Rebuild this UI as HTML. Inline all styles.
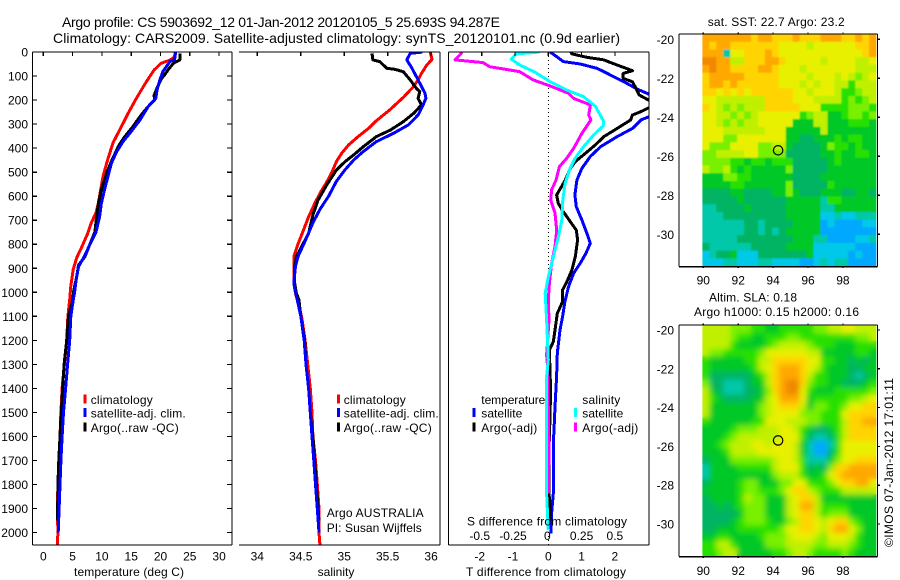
<!DOCTYPE html>
<html lang="en">
<head>
<meta charset="utf-8">
<title>Argo profile chart</title>
<style>
html,body{margin:0;padding:0;background:#fff;width:900px;height:580px;overflow:hidden}
svg{display:block}
text{font-family:"Liberation Sans",sans-serif;font-size:12px;fill:#000}
.title{font-size:14px}
</style>
</head>
<body>
<svg id="chart" xmlns="http://www.w3.org/2000/svg" width="900" height="580" viewBox="0 0 900 580">
<defs>
<clipPath id="clip-temp"><rect x="33" y="52" width="199" height="493"/></clipPath>
<clipPath id="clip-sal"><rect x="239" y="52" width="201" height="493"/></clipPath>
<clipPath id="clip-diff"><rect x="449" y="52" width="200" height="493"/></clipPath>
<clipPath id="clip-sst-map"><rect x="702.4" y="34" width="173.6" height="232"/></clipPath>
<clipPath id="clip-sla-map"><rect x="702.4" y="325.7" width="173.6" height="230"/></clipPath>
<filter id="blur-sst-map" filterUnits="userSpaceOnUse" x="680" y="10" width="220" height="280"><feGaussianBlur stdDeviation="0.8"/></filter>
<filter id="blur-sla-map" filterUnits="userSpaceOnUse" x="680" y="300" width="220" height="280"><feGaussianBlur stdDeviation="3"/></filter>
</defs>
<rect x="0" y="0" width="900" height="580" fill="#fff"/>
<text class="title" x="62" y="27" textLength="438" lengthAdjust="spacing">Argo profile: CS 5903692_12 01-Jan-2012 20120105_5 25.693S 94.287E</text>
<text class="title" x="53" y="43" textLength="567" lengthAdjust="spacing">Climatology: CARS2009. Satellite-adjusted climatology: synTS_20120101.nc (0.9d earlier)</text>
<text x="129" y="576" text-anchor="middle" textLength="110" lengthAdjust="spacing">temperature (deg C)</text>
<text x="336" y="576" text-anchor="middle">salinity</text>
<text x="546" y="576" text-anchor="middle" textLength="160" lengthAdjust="spacing">T difference from climatology</text>
<text x="326.7" y="517" textLength="97" lengthAdjust="spacing">Argo AUSTRALIA</text>
<text x="326.7" y="532" textLength="95" lengthAdjust="spacing">PI: Susan Wijffels</text>
<text x="707.7" y="26" textLength="137" lengthAdjust="spacing">sat. SST: 22.7 Argo: 23.2</text>
<text x="709" y="301.5" textLength="88" lengthAdjust="spacing">Altim. SLA: 0.18</text>
<text x="694" y="316" textLength="165" lengthAdjust="spacing">Argo h1000: 0.15 h2000: 0.16</text>
<text transform="translate(893 547) rotate(-90)" textLength="169" lengthAdjust="spacing">©IMOS 07-Jan-2012 17:01:11</text>
<g id="maps"></g>
<g id="series"></g>
<g id="axes"></g>
<g id="legends"></g>
<text x="547" y="525.5" text-anchor="middle" textLength="160" lengthAdjust="spacing">S difference from climatology</text>
</svg>
<script>
// ---- axis tick data ----
const depthTicks = [0,100,200,300,400,500,600,700,800,900,1000,1100,1200,1300,1400,1500,1600,1700,1800,1900,2000];
const tempTicks = [0,5,10,15,20,25,30];
const salTicks = [34,34.5,35,35.5,36];
const salTickLabels = ['34','34.5','35','35.5','36'];
const tDiffTicks = [-2,-1,0,1,2];
const sDiffTicks = [-0.5,-0.25,0,0.25,0.5];
const sDiffTickLabels = ['-0.5','-0.25','0','0.25','0.5'];
const lonTicks = [90,92,94,96,98];
const latTicks = [-20,-22,-24,-26,-28,-30];
const argoLon = 94.287;
const argoLat = -25.693;

// ---- temperature panel ----
const tempClimDepth = [0,20,33,47,75,123,192,254,316,378,455,517,572,628,669,710,759,815,856,905,974,1030,1100,1200,1300,1400,1500,1600,1700,1800,1900,2000,2050];
const tempClimValue = [22.5,22.4,21.7,20.1,18.9,17.6,15.9,14.5,13.2,11.9,10.9,10.2,9.8,9.4,9.0,8.2,7.5,6.5,5.7,5.1,4.7,4.5,4.2,4.0,3.6,3.2,3.0,2.85,2.7,2.5,2.4,2.5,2.4];
const tempSatDepth = [0,31,40,82,116,158,193,227,283,331,373,416,464,513,568,631,686,749,798,846,894,950,1005,1033,1100,1200,1300,1400,1500,1600,1700,1800,1900,2000];
const tempSatValue = [22.6,22.4,21.6,20.4,19.9,19.4,19.2,17.9,16.5,15.0,13.6,12.5,11.6,11.1,10.5,9.9,9.6,9.0,8.0,7.1,6.0,5.6,5.3,5.1,4.7,4.5,4.15,3.8,3.45,3.2,3.0,2.85,2.7,2.55];
const tempArgoDepth = [6,33,47,68,95,110,138,180,200,227,262,310,352,393,456,505,574,630,686,748,797,852,887,935,991,1033,1100,1200,1300,1400,1500,1600,1700,1800,1900,1950];
const tempArgoValue = [23.3,23.3,22.2,21.5,20.7,20.2,19.6,18.9,19.0,17.9,16.7,15.3,13.9,12.8,11.6,10.8,9.9,9.4,9.1,8.8,8.0,7.1,6.0,5.7,5.2,5.0,4.3,4.0,3.55,3.3,3.05,2.85,2.65,2.5,2.45,2.4];

// ---- salinity panel ----
const salClimDepth = [0,31,54,89,116,147,189,239,286,318,352,387,422,456,499,541,582,631,686,742,798,852,893,962,1004,1032,1100,1200,1300,1400,1500,1600,1700,1800,1900,2000,2050];
const salClimValue = [35.99,36.01,35.95,35.89,35.85,35.79,35.68,35.53,35.37,35.28,35.16,35.05,34.97,34.91,34.86,34.80,34.73,34.66,34.59,34.53,34.47,34.42,34.42,34.42,34.44,34.46,34.51,34.55,34.58,34.61,34.63,34.64,34.67,34.69,34.71,34.71,34.72];
const salSatDepth = [0,6,33,68,102,130,172,193,227,262,303,338,373,414,449,490,538,600,655,711,787,850,891,960,1001,1032,1100,1200,1300,1400,1500,1600,1700,1800,1900,2000];
const salSatValue = [35.90,35.76,35.72,35.78,35.83,35.87,35.93,35.94,35.90,35.85,35.74,35.57,35.37,35.22,35.11,35.01,34.91,34.82,34.72,34.64,34.55,34.47,34.44,34.42,34.44,34.46,34.50,34.54,34.56,34.59,34.61,34.63,34.65,34.67,34.69,34.71];
const salArgoDepth = [6,33,40,68,72,82,116,151,165,193,220,255,290,325,352,394,428,456,491,553,616,678,755,810,852,893,962,1004,1032,1100,1200,1300,1400,1500,1600,1700,1800,1900,1950];
const salArgoValue = [35.32,35.33,35.41,35.49,35.58,35.68,35.76,35.83,35.87,35.85,35.89,35.80,35.68,35.53,35.37,35.22,35.11,35.01,34.91,34.80,34.70,34.64,34.59,34.51,34.45,34.43,34.43,34.45,34.48,34.50,34.545,34.56,34.59,34.61,34.64,34.66,34.68,34.70,34.71];

// ---- difference panel ----
const dtSatDepth = [0,19,40,50,68,82,103,124,155,179,220,266,283,318,352,394,435,484,533,595,644,699,755,796,838,879,921,976,1039,1101,1157,1254,1351,1476,1573,1629,1837,1920,2003];
const dtSatValue = [0.05,0.25,0.45,0.96,1.46,1.67,1.97,2.27,2.68,3.08,3.6,3.08,2.78,2.53,2.07,1.57,1.26,1.01,0.86,0.8,0.84,1.01,1.16,1.26,1.13,0.96,0.76,0.61,0.5,0.43,0.35,0.27,0.25,0.2,0.17,0.15,0.15,0.1,0.08];
const dtArgoDepth = [0,8,22,33,44,78,89,110,124,151,179,207,227,248,262,283,318,352,387,428,456,484,533,595,630,664,706,741,782,852,907,956,990,1039,1088,1157,1206,1240,1324,1407,1518,1657,1837,1892,1950];
const dtArgoValue = [0.68,0.71,1.16,1.67,1.87,2.53,2.25,2.25,2.53,2.63,2.73,3.1,3.1,2.78,2.53,2.47,2.07,1.67,1.41,1.06,0.81,0.66,0.51,0.25,0.3,0.45,0.66,0.84,0.88,0.81,0.71,0.56,0.43,0.43,0.27,0.2,0.15,0.03,0.05,0.07,0.05,0.02,0.02,0.05,0.05];
const dsSatDepth = [0,8,30,54,84,123,158,186,227,290,308,345,394,442,484,546,616,699,769,852,936,1004,1060,1115,1171,1282,1351,1837,1892,1989];
const dsSatValue = [-0.063,-0.24,-0.278,-0.215,-0.10,0.013,0.139,0.265,0.354,0.417,0.412,0.341,0.265,0.202,0.164,0.126,0.109,0.101,0.076,0.038,0,-0.023,-0.018,-0.013,-0.008,0,-0.013,-0.013,-0.008,0];
const dsArgoDepth = [0,8,33,44,61,75,82,116,141,172,193,220,262,283,338,401,442,477,533,574,616,671,741,810,879,962,1032,1115,1226,1261,1310,1657,1837];
const dsArgoValue = [-0.65,-0.657,-0.70,-0.49,-0.44,-0.29,-0.215,-0.114,0.013,0.152,0.19,0.316,0.303,0.32,0.253,0.19,0.139,0.083,0.058,0.025,0.018,0.05,0.063,0.05,0.025,0.008,0,0.005,-0.008,-0.013,-0.005,0.005,0];

// ---- map grids: colour-level per cell, row by row from north to south ----
const sstLevels = [
[10,10,10,10,10,10,10,9,10,10,9,9,9,10,9,9,9,10,10,10,9,9,10,9,10],
[10,9,10,10,9,9,9,9,9,9,9,8,8,8,8,7,8,8,8,8,8,8,9,9,10],
[10,10,10,2,8,8,9,9,9,10,9,8,8,8,8,8,8,8,8,8,8,8,8,9,10],
[11,11,10,10,7,7,9,9,9,10,10,9,8,8,8,8,8,7,8,8,8,8,7,7,8],
[10,11,10,10,9,9,9,9,10,10,9,8,8,8,7,8,8,8,8,8,8,8,7,7,7],
[9,10,10,10,10,10,9,9,9,9,9,8,8,8,8,7,8,8,8,7,8,7,6,7,8],
[9,10,10,9,10,9,9,9,9,9,9,8,8,8,7,8,7,8,8,7,7,5,7,7,7],
[9,9,8,9,8,9,8,9,9,9,9,9,9,8,8,7,8,8,8,7,5,5,6,7,7],
[8,8,7,7,7,7,7,7,7,9,9,9,9,8,8,8,7,7,7,7,5,6,5,6,7],
[9,8,7,6,7,6,7,7,7,9,9,9,9,9,8,8,8,5,5,5,5,6,6,6,5],
[8,8,7,7,6,7,6,7,8,8,8,8,8,8,5,6,7,7,4,4,5,6,6,5,6],
[8,8,7,6,7,6,7,7,8,8,8,8,8,4,4,4,7,7,4,4,4,5,5,5,4],
[8,8,8,7,7,7,7,7,7,8,8,8,4,4,4,4,4,7,4,4,4,4,4,4,4],
[8,8,8,6,6,8,8,8,8,8,8,8,4,4,3,3,4,4,4,5,4,5,5,4,4],
[8,6,6,6,8,8,8,8,6,6,7,7,4,3,3,3,3,4,6,5,5,4,5,4,4],
[6,6,7,7,7,7,8,8,6,6,6,6,3,3,3,3,3,4,4,5,4,4,5,5,4],
[6,6,6,6,5,5,4,5,5,4,5,5,5,3,3,3,3,3,4,5,4,4,4,4,4],
[7,6,6,7,5,4,5,4,4,4,4,4,6,3,3,3,3,3,4,4,4,4,4,4,4],
[4,4,4,6,6,5,5,4,4,4,4,4,4,3,3,3,3,4,4,4,4,4,4,4,4],
[4,4,4,4,5,5,4,4,4,4,4,4,6,3,3,3,3,3,5,4,4,4,4,4,4],
[3,3,3,3,4,4,3,3,3,3,4,4,6,4,3,3,3,4,4,4,3,3,4,4,3],
[3,3,3,3,3,4,3,3,3,3,3,3,4,4,4,4,4,2,5,5,4,4,4,4,4],
[2,2,3,3,3,3,4,3,3,3,3,3,4,4,4,4,4,2,2,4,4,4,4,4,4],
[2,2,2,3,3,3,3,3,3,3,3,3,4,4,4,4,4,1,1,2,1,1,2,2,2],
[2,2,2,2,2,2,3,3,2,3,3,3,3,4,4,4,4,0,1,0,0,0,0,1,1],
[2,2,2,2,2,2,3,3,2,3,2,3,4,4,4,4,4,0,0,0,0,0,0,0,0],
[2,2,2,2,2,3,3,3,3,3,3,3,3,4,4,4,2,2,0,0,0,0,1,1,2],
[3,2,2,2,2,2,2,3,3,3,3,3,4,4,4,4,1,1,1,1,1,1,0,0,0],
[1,2,3,3,4,1,1,1,3,3,3,3,3,3,3,4,1,1,1,1,1,0,1,0,0],
[1,1,1,2,2,1,1,1,2,2,1,1,1,1,0,0,1,2,1,2,2,0,0,0,0]
];
const slaLevels = [
[7,7,7,7,6,6,6,5,5,4,4,5,5,5,5,5,6,6,7,7,8,8,7,7,7],
[7,7,7,7,6,5,5,4,4,5,5,5,6,6,5,5,5,5,5,5,5,5,6,6,7],
[7,7,7,7,5,4,4,4,4,5,6,7,7,7,7,6,5,5,5,4,4,4,5,5,5],
[7,6,6,5,5,5,5,5,6,8,8,8,8,8,8,7,7,4,4,4,4,4,5,5,4],
[5,4,4,4,4,4,5,5,7,7,9,9,9,9,9,8,8,5,5,4,4,3,4,3,4],
[5,4,4,4,4,4,4,5,7,8,9,10,10,10,9,8,7,5,4,4,4,3,3,4,4],
[5,3,3,3,3,3,3,4,5,7,9,10,10,10,9,7,5,5,4,4,4,3,2,3,4],
[6,3,3,2,2,2,3,4,4,7,9,10,11,11,9,6,5,5,4,4,3,3,3,4,5],
[7,4,3,2,2,2,3,3,4,6,9,10,11,11,8,5,4,4,4,5,5,5,5,5,6],
[7,5,4,3,3,3,3,4,4,7,8,10,10,10,8,4,5,5,5,5,5,6,6,7,8],
[7,4,4,4,4,4,4,4,6,7,8,9,9,9,7,4,6,6,5,5,6,8,8,9,9],
[7,4,4,4,4,4,4,4,6,7,8,8,8,8,6,6,6,5,5,5,8,9,9,9,9],
[5,4,4,4,4,4,4,5,5,8,8,8,7,7,7,6,6,5,5,5,7,9,9,10,10],
[4,4,4,4,5,6,6,6,7,7,7,8,8,7,5,4,3,3,4,5,7,9,9,9,9],
[4,4,4,5,6,7,7,7,7,7,7,8,8,8,5,3,2,2,3,5,7,9,9,9,9],
[4,4,5,6,7,7,7,8,8,7,8,8,8,7,4,2,0,0,2,5,8,8,8,8,8],
[4,4,4,5,7,7,7,7,8,8,8,8,8,7,4,2,0,0,3,5,8,8,8,8,8],
[3,4,4,4,6,6,6,6,6,6,7,8,8,7,5,2,2,2,4,6,8,8,9,9,9],
[2,4,4,4,4,5,5,5,5,5,7,8,8,8,5,3,4,3,6,9,9,10,10,10,10],
[2,4,4,4,4,4,4,4,4,4,6,7,7,7,5,4,4,5,8,9,10,10,10,10,10],
[3,4,4,4,4,5,6,6,4,4,4,6,6,8,8,5,5,5,6,8,9,9,10,10,8],
[4,4,4,4,4,5,6,6,5,5,5,6,8,9,9,7,6,5,5,5,7,7,7,7,7],
[3,4,4,4,4,5,7,6,6,4,4,4,7,8,9,9,7,4,4,4,4,4,4,4,4],
[3,3,4,3,4,5,6,6,6,4,4,4,7,8,10,10,7,5,5,5,5,4,4,4,4],
[3,3,3,3,3,4,6,6,6,4,4,4,7,8,9,9,7,5,6,6,6,4,4,4,4],
[3,3,3,3,4,5,6,6,6,5,4,4,6,7,9,9,8,7,8,9,9,6,5,4,4],
[3,3,4,4,4,5,5,5,5,5,5,6,8,8,9,9,8,7,9,10,10,8,6,4,4],
[4,4,5,5,4,4,4,4,5,6,6,6,7,8,8,8,7,6,8,8,8,7,5,4,4],
[5,5,7,7,5,4,4,4,4,6,6,6,7,7,7,7,6,6,7,7,7,6,5,4,4],
[5,5,6,7,7,4,4,4,4,4,5,5,6,7,7,6,5,5,5,5,6,5,4,4,4]
];
const levelColors = ['#00a8ff','#00c8e8','#00c8a8','#00b464','#00c828','#28e000','#78f000','#c0f000','#e8f000','#ffd400','#ffa800','#f08800'];

// ---- axis functions ----
const SVG_NS = 'http://www.w3.org/2000/svg';
const yDepth = d => 52 + d * 0.2403;
const xTemp = t => 43.3 + t * 5.86;
const xSal = s => 257.3 + (s - 34) * 86.9;
const xTDiff = t => 548.3 + t * 33.3;
const xSDiff = s => 548.3 + s * 133.2;
const xLon = lon => 703.3 + (lon - 90) * 17.45;
const ySstLat = lat => 39.3 - (lat + 20) * 19.5;
const ySlaLat = lat => 330 - (lat + 20) * 19.4;

const axesG = document.getElementById('axes');
const seriesG = document.getElementById('series');
const legendsG = document.getElementById('legends');
const mapsG = document.getElementById('maps');

function make(parent, tag, attrs, txt) {
  const el = document.createElementNS(SVG_NS, tag);
  for (const k in attrs) el.setAttribute(k, attrs[k]);
  if (txt !== undefined) el.textContent = txt;
  parent.appendChild(el);
  return el;
}
function hv(x1, y1, x2, y2, name) {
  const el = make(axesG, 'line', {x1: x1, y1: y1, x2: x2, y2: y2, stroke: '#000', 'stroke-width': 1.2, 'shape-rendering': 'crispEdges'});
  
  
  return el;
}
function label(x, y, str, anchor, name) {
  const el = make(axesG, 'text', {x: x, y: y, 'text-anchor': anchor}, str);
  
  
  return el;
}
function profile(depths, values, xFn, color, clip, name) {
  const pts = depths.map((d, i) => xFn(values[i]).toFixed(1) + ',' + yDepth(d).toFixed(1)).join(' ');
  const el = make(seriesG, 'polyline', {points: pts, fill: 'none', stroke: color, 'stroke-width': 3, 'stroke-linejoin': 'round', 'shape-rendering': 'crispEdges', 'clip-path': 'url(#' + clip + ')'});
  
  
}
function legendEntry(dashX, textX, y, color, str, width, name) {
  if (color) {
    const d = make(legendsG, 'rect', {x: dashX, y: y - 9.5, width: 3, height: 9, fill: color, 'shape-rendering': 'crispEdges'});
    
    
  }
  const t = make(legendsG, 'text', {x: textX, y: y, textLength: width, lengthAdjust: 'spacing'}, str);
  
  
}

// ---- maps ----
function drawMap(levels, yLat, latTop, latBottom, name) {
  const lonLeft = 89.95, lonRight = 99.9;
  const nCols = levels[0].length, nRows = levels.length;
  const dLon = (lonRight - lonLeft) / nCols, dLat = (latTop - latBottom) / nRows;
  const group = make(mapsG, 'g', {id: name + '-cells'});
  
  
  levels.forEach((row, r) => {
    row.forEach((lev, c) => {
      const x0 = xLon(lonLeft + c * dLon), x1 = xLon(lonLeft + (c + 1) * dLon);
      const y0 = yLat(latTop - r * dLat), y1 = yLat(latTop - (r + 1) * dLat);
      const cell = make(group, 'rect', {x: x0.toFixed(2), y: y0.toFixed(2), width: (x1 - x0 + 0.3).toFixed(2), height: (y1 - y0 + 0.3).toFixed(2), fill: levelColors[lev]});
      
      
    });
  });
  const holder = make(mapsG, 'g', {'clip-path': 'url(#clip-' + name + ')'});
  const smooth = make(holder, 'use', {href: '#' + name + '-cells', filter: 'url(#blur-' + name + ')'});
  
  
}
drawMap(sstLevels, ySstLat, -19.73, -31.63, 'sst-map');
drawMap(slaLevels, ySlaLat, -19.78, -31.64, 'sla-map');

// ---- temperature panel axes ----
hv(32.5, 52, 232, 52, 'temperature-top-axis');
hv(32.5, 545, 232, 545, 'temperature-bottom-axis');
hv(32.5, 52, 32.5, 545, 'temperature-left-axis');
hv(232, 52, 232, 545, 'temperature-right-axis');
depthTicks.forEach(d => {
  hv(32.5, yDepth(d), 37, yDepth(d), 'depth-tick-left');
  hv(227, yDepth(d), 232, yDepth(d), 'depth-tick-right');
  label(28, yDepth(d) + 4.5, String(d), 'end', 'depth-tick-label');
});
tempTicks.forEach(t => {
  hv(xTemp(t), 52, xTemp(t), 56, 'temperature-tick');
  label(xTemp(t), 560.5, String(t), 'middle', 'temperature-tick-label');
});

// ---- salinity panel axes ----
hv(239, 52, 440, 52, 'salinity-top-axis');
hv(239, 545, 440, 545, 'salinity-bottom-axis');
hv(440, 52, 440, 545, 'salinity-right-axis');
salTicks.forEach((s, i) => {
  hv(xSal(s), 52, xSal(s), 56, 'salinity-tick');
  label(xSal(s), 560.5, salTickLabels[i], 'middle', 'salinity-tick-label');
});

// ---- difference panel axes ----
hv(448.5, 52, 649, 52, 'difference-top-axis');
hv(448.5, 545, 649, 545, 'difference-bottom-axis');
hv(448.5, 52, 448.5, 545, 'difference-left-axis');
hv(649, 52, 649, 545, 'difference-right-axis');
tDiffTicks.forEach(t => {
  hv(xTDiff(t), 52, xTDiff(t), 56, 'difference-tick');
  label(xTDiff(t) - (t < 0 ? 2 : 0), 560.5, String(t), 'middle', 't-difference-tick-label');
});
sDiffTicks.forEach((s, i) => {
  label(xSDiff(s) - (s < 0 ? 2 : 0) - (s === 0 ? 1 : 0), 540, sDiffTickLabels[i], 'middle', 's-difference-tick-label');
});
const zeroLine = make(seriesG, 'line', {x1: xTDiff(0), y1: 52, x2: xTDiff(0), y2: 545, stroke: '#000', 'stroke-width': 1, 'stroke-dasharray': '1 3', 'shape-rendering': 'crispEdges'});



// ---- map axes ----
function mapAxes(top, bottom, yLat, baseline, prefix) {
  hv(679, top, 877.5, top, prefix + '-top-axis');
  hv(679, bottom, 877.5, bottom, prefix + '-bottom-axis');
  hv(679, top, 679, bottom, prefix + '-left-axis');
  hv(877.5, top, 877.5, bottom, prefix + '-right-axis');
  lonTicks.forEach(lon => {
    hv(xLon(lon), top - 1.5, xLon(lon), top, prefix + '-lon-tick');
    hv(xLon(lon), bottom, xLon(lon), bottom + 1.5, prefix + '-lon-tick');
    label(xLon(lon), baseline, String(lon), 'middle', prefix + '-lon-label');
  });
  latTicks.forEach(lat => {
    hv(877.5, yLat(lat), 880, yLat(lat), prefix + '-lat-tick');
    label(674, yLat(lat) + 4.5, String(lat), 'end', prefix + '-lat-label');
  });
}
mapAxes(34, 266.7, ySstLat, 284.5, 'sst-map');
mapAxes(325, 556.7, ySlaLat, 575, 'sla-map');
function marker(yLat, name) {
  const c = make(axesG, 'circle', {cx: xLon(argoLon), cy: yLat(argoLat), r: 4.7, fill: 'none', stroke: '#000', 'stroke-width': 1.2});
  
  
}
marker(ySstLat, 'sst-map-profile-marker');
marker(ySlaLat, 'sla-map-profile-marker');

// ---- profile series ----
profile(tempClimDepth, tempClimValue, xTemp, '#ff0000', 'clip-temp', 'temperature-climatology-line');
profile(tempArgoDepth, tempArgoValue, xTemp, '#000000', 'clip-temp', 'temperature-argo-line');
profile(tempSatDepth, tempSatValue, xTemp, '#0000ff', 'clip-temp', 'temperature-satellite-line');
profile(salClimDepth, salClimValue, xSal, '#ff0000', 'clip-sal', 'salinity-climatology-line');
profile(salArgoDepth, salArgoValue, xSal, '#000000', 'clip-sal', 'salinity-argo-line');
profile(salSatDepth, salSatValue, xSal, '#0000ff', 'clip-sal', 'salinity-satellite-line');
profile(dtSatDepth, dtSatValue, xTDiff, '#0000ff', 'clip-diff', 'difference-t-satellite-line');
profile(dtArgoDepth, dtArgoValue, xTDiff, '#000000', 'clip-diff', 'difference-t-argo-line');
profile(dsArgoDepth, dsArgoValue, xSDiff, '#ff00ff', 'clip-diff', 'difference-s-argo-line');
profile(dsSatDepth, dsSatValue, xSDiff, '#00ffff', 'clip-diff', 'difference-s-satellite-line');

// ---- legends ----
legendEntry(83.3, 90.7, 404, '#ff0000', 'climatology', 62, 'temperature-legend-climatology');
legendEntry(83.3, 90.7, 417.5, '#0000ff', 'satellite-adj. clim.', 95, 'temperature-legend-satellite');
legendEntry(83.3, 90.7, 432, '#000000', 'Argo(..raw -QC)', 88, 'temperature-legend-argo');
legendEntry(337, 343.7, 404, '#ff0000', 'climatology', 62, 'salinity-legend-climatology');
legendEntry(337, 343.7, 417.5, '#0000ff', 'satellite-adj. clim.', 95, 'salinity-legend-satellite');
legendEntry(337, 343.7, 432, '#000000', 'Argo(..raw -QC)', 88, 'salinity-legend-argo');
legendEntry(0, 481.3, 404, null, 'temperature', 64, 'difference-legend-temperature-heading');
legendEntry(472.7, 481.3, 417.5, '#0000ff', 'satellite', 41, 'difference-legend-t-satellite');
legendEntry(472.7, 481.3, 432, '#000000', 'Argo(-adj)', 56, 'difference-legend-t-argo');
legendEntry(0, 582.3, 404, null, 'salinity', 38, 'difference-legend-salinity-heading');
legendEntry(574, 582.3, 417.5, '#00ffff', 'satellite', 41, 'difference-legend-s-satellite');
legendEntry(574, 582.3, 432, '#ff00ff', 'Argo(-adj)', 56, 'difference-legend-s-argo');
</script>
</body>
</html>
